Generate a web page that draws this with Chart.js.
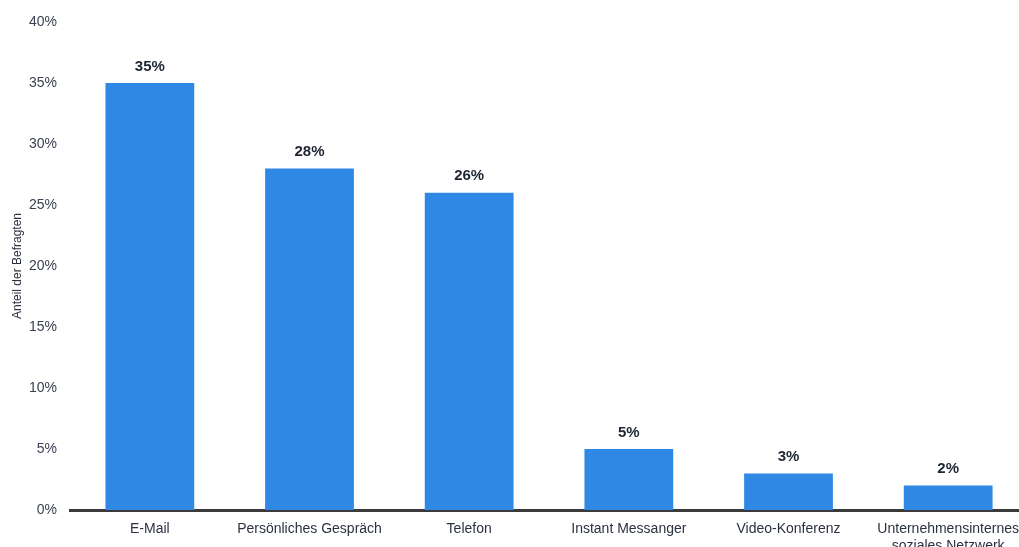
<!DOCTYPE html>
<html>
<head>
<meta charset="utf-8">
<script src="https://cdn.jsdelivr.net/npm/chart.js@4"></script>
<style>
  html, body { margin: 0; padding: 0; overflow: hidden; background: #fff; }
  #wrap { width: 1030px; height: 560px; }
</style>
</head>
<body>
<div id="wrap"><canvas id="shareChart" width="1030" height="560"></canvas></div>
<script>
const categories = [
  'E-Mail',
  'Persönliches Gespräch',
  'Telefon',
  'Instant Messanger',
  'Video-Konferenz',
  ['Unternehmensinternes', 'soziales Netzwerk']
];
const shares = [35, 28, 26, 5, 3, 2];
const yTicks = [0, 5, 10, 15, 20, 25, 30, 35, 40];

// draws the value label above each bar
const valueLabels = {
  id: 'valueLabels',
  afterDatasetsDraw(chart) {
    const ctx = chart.ctx;
    const meta = chart.getDatasetMeta(0);
    ctx.save();
    ctx.font = 'bold 15px "Liberation Sans", Arial, sans-serif';
    ctx.fillStyle = '#1e2633';
    ctx.textAlign = 'center';
    ctx.textBaseline = 'bottom';
    meta.data.forEach((bar, i) => {
      ctx.fillText(shares[i] + '%', bar.x, bar.y - 9);
    });
    ctx.restore();
  }
};

const ctx = document.getElementById('shareChart').getContext('2d');
const shareChart = new Chart(ctx, {
  type: 'bar',
  data: {
    labels: categories,
    datasets: [{
      data: shares,
      backgroundColor: '#2f88e3',
      borderWidth: 0,
      barPercentage: 0.556,
      categoryPercentage: 1
    }]
  },
  options: {
    responsive: false,
    animation: false,
    layout: { padding: { top: 22, right: 0, left: 0, bottom: 0 } },
    plugins: {
      legend: { display: false },
      tooltip: { enabled: false }
    },
    scales: {
      x: {
        grid: { display: false, drawTicks: false },
        border: { display: true, color: '#3a3a3a', width: 3 },
        ticks: {
          color: '#2b3240',
          font: { family: '"Liberation Sans", Arial, sans-serif', size: 14 },
          padding: 11,
          maxRotation: 0,
          autoSkip: false
        },
        afterFit(scale) { scale.height = 50; }
      },
      y: {
        min: 0,
        max: 40,
        afterBuildTicks(scale) { scale.ticks = yTicks.map(v => ({ value: v })); },
        grid: { display: false, drawTicks: false },
        border: { display: false },
        ticks: {
          color: '#3a4150',
          font: { family: '"Liberation Sans", Arial, sans-serif', size: 14 },
          padding: 13,
          callback: v => v + '%'
        },
        title: {
          display: true,
          text: 'Anteil der Befragten',
          color: '#2b3240',
          font: { family: '"Liberation Sans", Arial, sans-serif', size: 12 },
          padding: { top: 10, bottom: 0 }
        },
        afterFit(scale) { scale.width = 70; }
      }
    }
  },
  plugins: [valueLabels]
});
</script>
</body>
</html>
